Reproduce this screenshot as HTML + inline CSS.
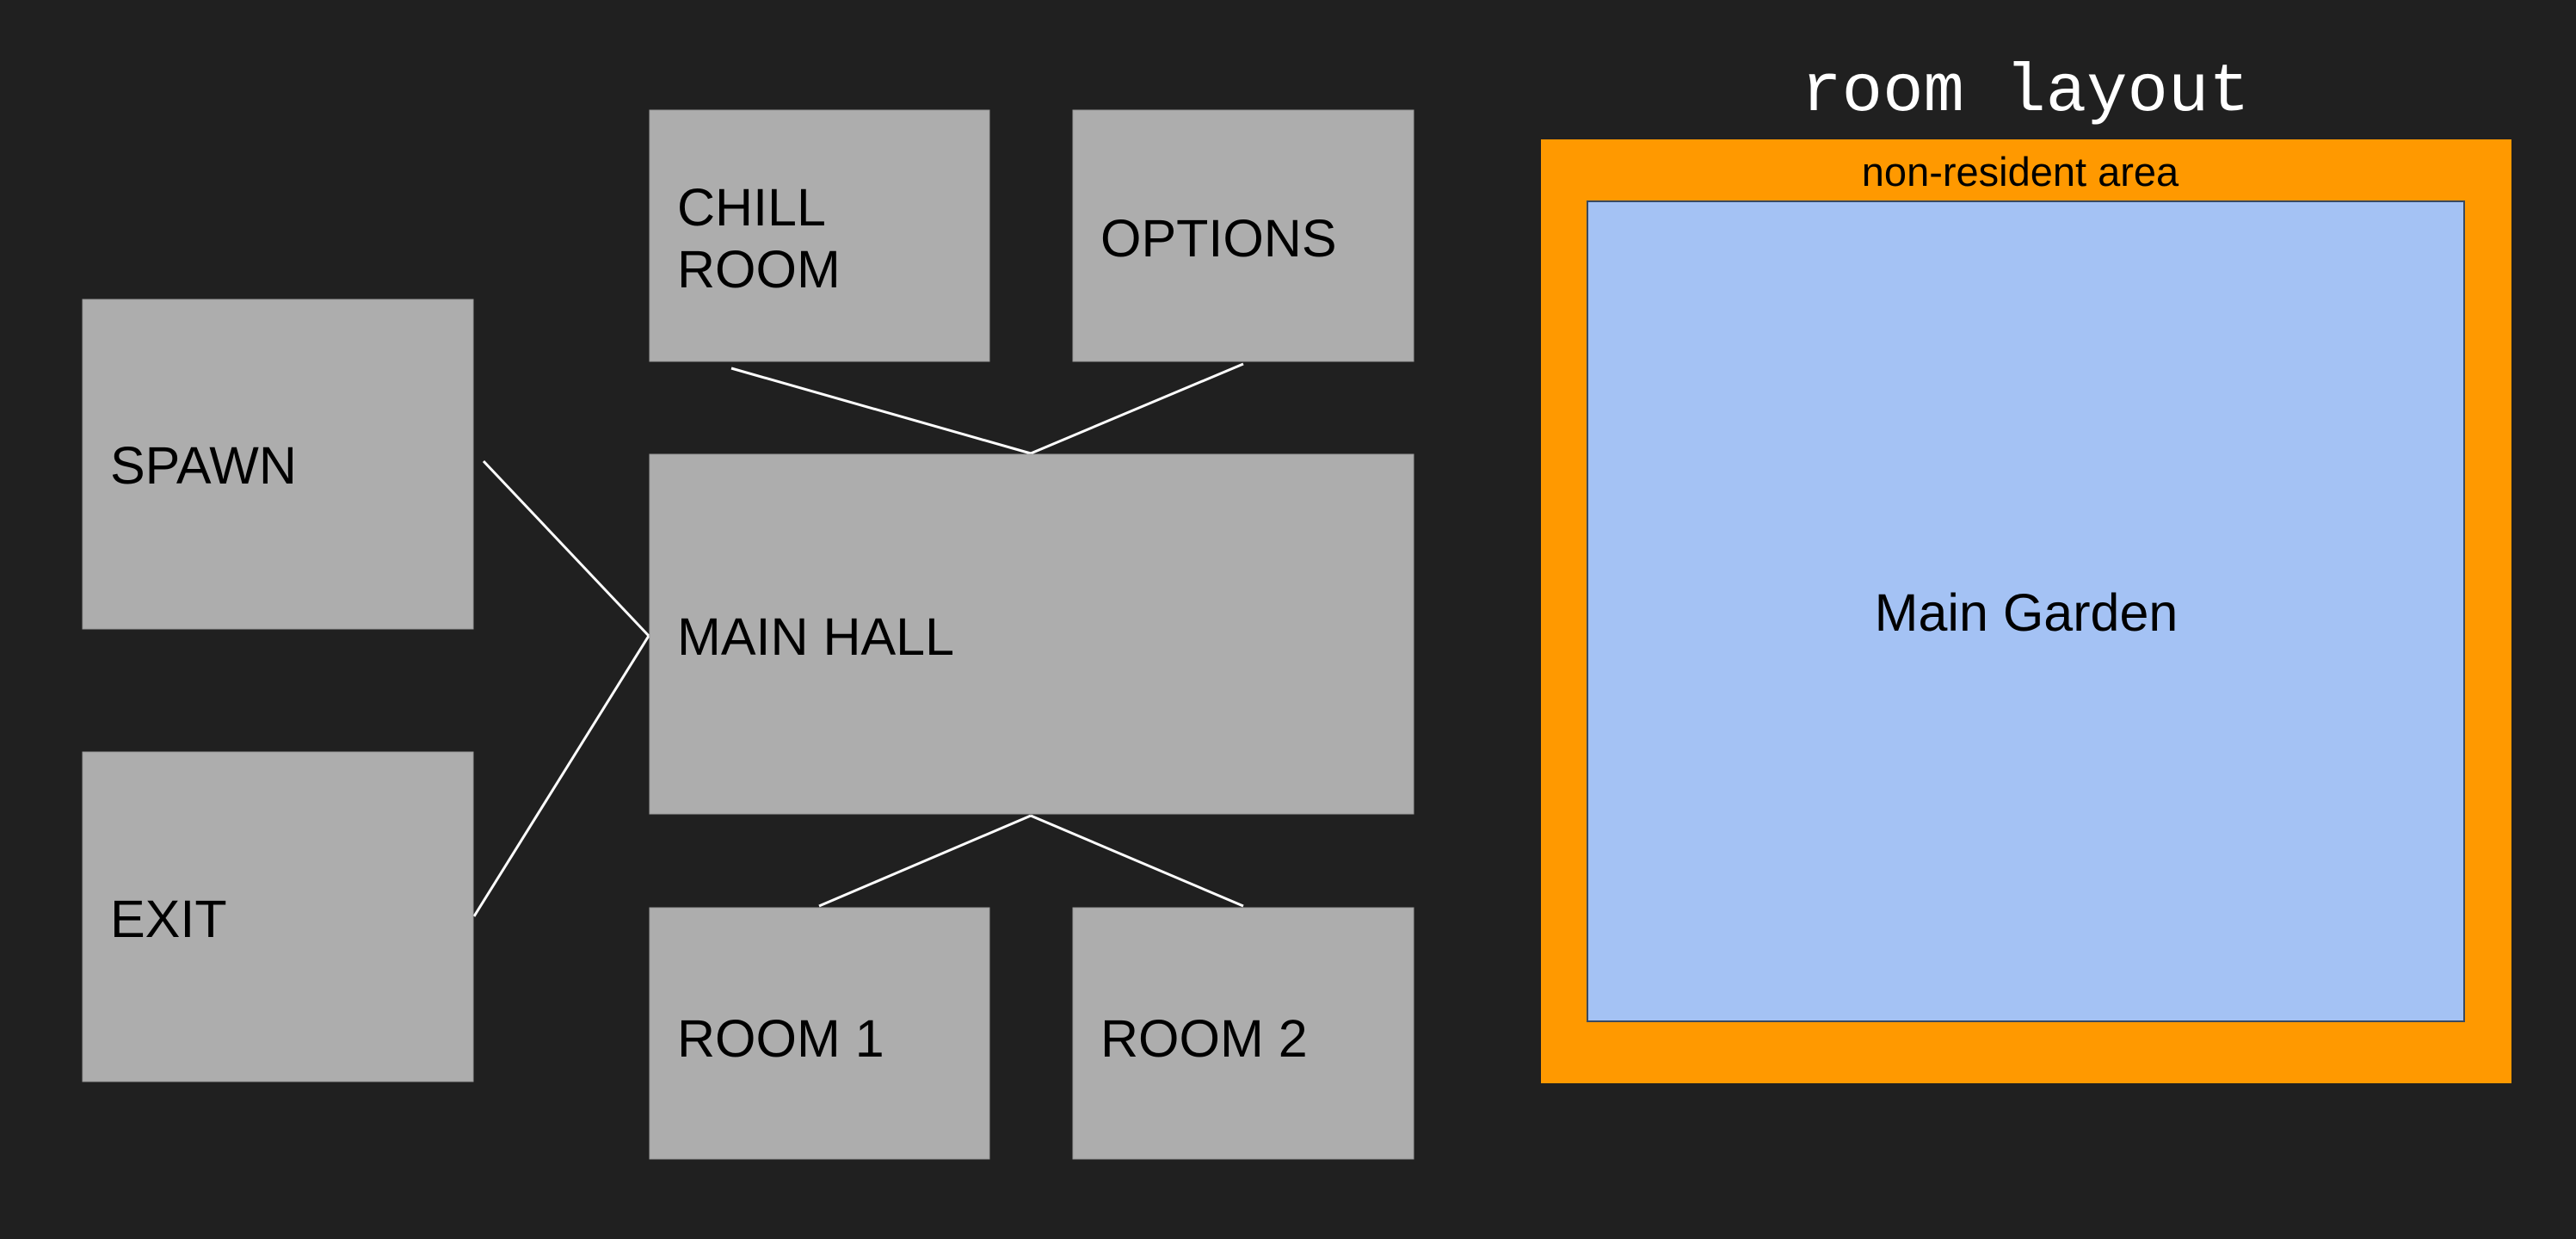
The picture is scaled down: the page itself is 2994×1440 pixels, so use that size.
<!DOCTYPE html>
<html><head><meta charset="utf-8"><style>
body{margin:0;background:#202020;}
svg{display:block}
text{font-family:"Liberation Sans",sans-serif;fill:#000}
</style></head><body>
<svg width="2994" height="1440" viewBox="0 0 2994 1440">
<rect x="0" y="0" width="2994" height="1440" fill="#202020"/>
<g stroke="#ffffff" stroke-width="3" fill="none">
<line x1="850" y1="428" x2="1198" y2="527"/>
<line x1="1445" y1="423" x2="1198" y2="527"/>
<line x1="562" y1="536" x2="754" y2="739"/>
<line x1="551" y1="1065" x2="754" y2="739"/>
<line x1="1198" y1="948" x2="952" y2="1053"/>
<line x1="1198" y1="948" x2="1445" y2="1053"/>
</g>
<g fill="#adadad" stroke="#9a9a9a" stroke-width="1">
<rect x="755" y="128" width="395" height="292"/>
<rect x="1247" y="128" width="396" height="292"/>
<rect x="96" y="348" width="454" height="383"/>
<rect x="96" y="874" width="454" height="383"/>
<rect x="755" y="528" width="888" height="418"/>
<rect x="755" y="1055" width="395" height="292"/>
<rect x="1247" y="1055" width="396" height="292"/>
</g>
<g font-size="61">
<text x="787" y="262">CHILL</text>
<text x="787" y="334">ROOM</text>
<text x="1279" y="298">OPTIONS</text>
<text x="128" y="562">SPAWN</text>
<text x="787" y="761">MAIN HALL</text>
<text x="128" y="1089">EXIT</text>
<text x="787" y="1228">ROOM 1</text>
<text x="1279" y="1228">ROOM 2</text>
</g>
<text x="2354" y="128" text-anchor="middle" font-size="79" style="font-family:'Liberation Mono',monospace;fill:#ffffff">room layout</text>
<rect x="1791" y="162" width="1128" height="1097" fill="#ff9900"/>
<text x="2348" y="216" text-anchor="middle" font-size="47">non-resident area</text>
<rect x="1845" y="234" width="1019" height="953" fill="#a4c2f4" stroke="#3a4a60" stroke-width="2"/>
<text x="2355" y="733" text-anchor="middle" font-size="61">Main Garden</text>
</svg>
</body></html>
